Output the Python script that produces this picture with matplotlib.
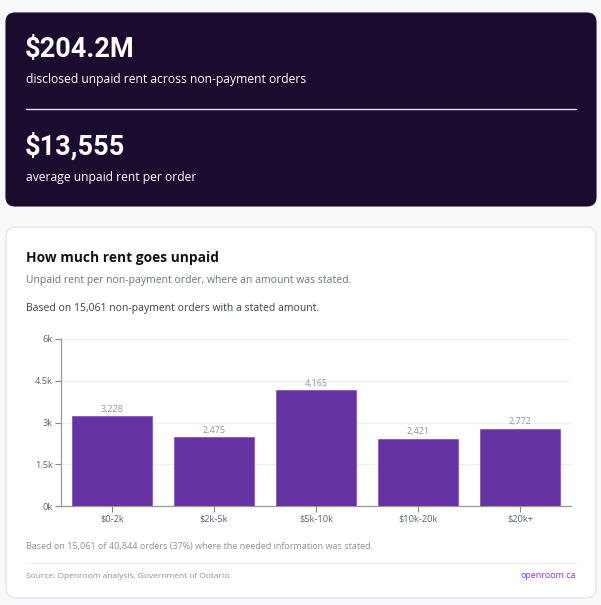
import matplotlib
matplotlib.use("Agg")
import matplotlib.pyplot as plt
from matplotlib.patches import FancyBboxPatch

categories = ["$0-2k", "$2k-5k", "$5k-10k", "$10k-20k", "$20k+"]
orders = [3228, 2475, 4165, 2421, 2772]
yticks = [0, 1500, 3000, 4500, 6000]
ytick_labels = ["0k", "1.5k", "3k", "4.5k", "6k"]

plt.rcParams['font.family'] = ['Open Sans', 'DejaVu Sans']

W, H = 601, 605
fig = plt.figure(figsize=(W / 100, H / 100), dpi=100)
fig.patch.set_facecolor("#f8f9fb")

bg = fig.add_axes([0, 0, 1, 1])
bg.set_xlim(0, W)
bg.set_ylim(H, 0)
bg.axis("off")

# Dark stat card
bg.add_patch(FancyBboxPatch((6, 13), 590, 193, boxstyle="round,pad=0,rounding_size=9",
                            fc="#1b0b2e", ec="#1b0b2e", lw=0.8))
bg.text(25, 49, "$204.2M", color="white", fontsize=19.5, fontweight="bold", va="center", ha="left",
        family=["Roboto", "DejaVu Sans"])
bg.text(26, 80, "disclosed unpaid rent across non-payment orders", color="white", fontsize=8.7,
        va="center", ha="left")
bg.plot([26, 576], [109, 109], color="#e6e0ee", lw=1)
bg.text(25, 147, "$13,555", color="white", fontsize=19.5, fontweight="bold", va="center", ha="left",
        family=["Roboto", "DejaVu Sans"])
bg.text(26, 178, "average unpaid rent per order", color="white", fontsize=8.7, va="center", ha="left")

# White chart card
bg.add_patch(FancyBboxPatch((6, 227), 590, 371, boxstyle="round,pad=0,rounding_size=10",
                            fc="white", ec="#e3e5ea", lw=1))
bg.text(26, 258, "How much rent goes unpaid", color="#141414", fontsize=9.9, fontweight="bold",
        va="center", ha="left")
bg.text(26, 280, "Unpaid rent per non-payment order, where an amount was stated.", color="#6b7280",
        fontsize=7.5, va="center", ha="left")
bg.text(26, 308, "Based on 15,061 non-payment orders with a stated amount.", color="#374151",
        fontsize=7.5, va="center", ha="left")
bg.text(26, 547, "Based on 15,061 of 40,844 orders (37%) where the needed information was stated.",
        color="#8b8f98", fontsize=6.5, va="center", ha="left")
bg.plot([26, 576], [563, 563], color="#eceef1", lw=0.8)
bg.text(26, 576, "Source: Openroom analysis, Government of Ontario", color="#8b8f98", fontsize=6.0,
        va="center", ha="left")
bg.text(576, 576, "openroom.ca", color="#7c3aed", fontsize=6.4, va="center", ha="right")

# Bar chart axes (pixel rect: x 61..571, y 339..506)
ax = fig.add_axes([61 / W, 1 - 506 / H, (571 - 61) / W, (506 - 339) / H])
ax.set_facecolor("none")
x = list(range(len(categories)))
ax.bar(x, orders, width=0.79, color="#6633a3", edgecolor="#7c4cc0", lw=0.5, zorder=3)
for xi, v in zip(x, orders):
    ax.text(xi, v + 90, f"{v:,}", ha="center", va="bottom", fontsize=6.5, color="#8c95aa", zorder=4)
ax.set_xlim(-0.5, len(categories) - 0.5)
ax.set_ylim(0, 6000)
ax.set_yticks(yticks)
ax.set_yticklabels(ytick_labels)
ax.set_xticks(x)
ax.set_xticklabels(categories)
ax.tick_params(axis="both", labelsize=6.7, length=4, width=0.8, pad=2,
               colors="#888888", labelcolor="#55607a")
ax.yaxis.grid(True, color="#eeeff2", lw=0.9, zorder=0)
for s in ["top", "right"]:
    ax.spines[s].set_visible(False)
for s in ["left", "bottom"]:
    ax.spines[s].set_color("#999999")
    ax.spines[s].set_linewidth(0.9)

fig.savefig("out.png", dpi=100, facecolor=fig.get_facecolor())
